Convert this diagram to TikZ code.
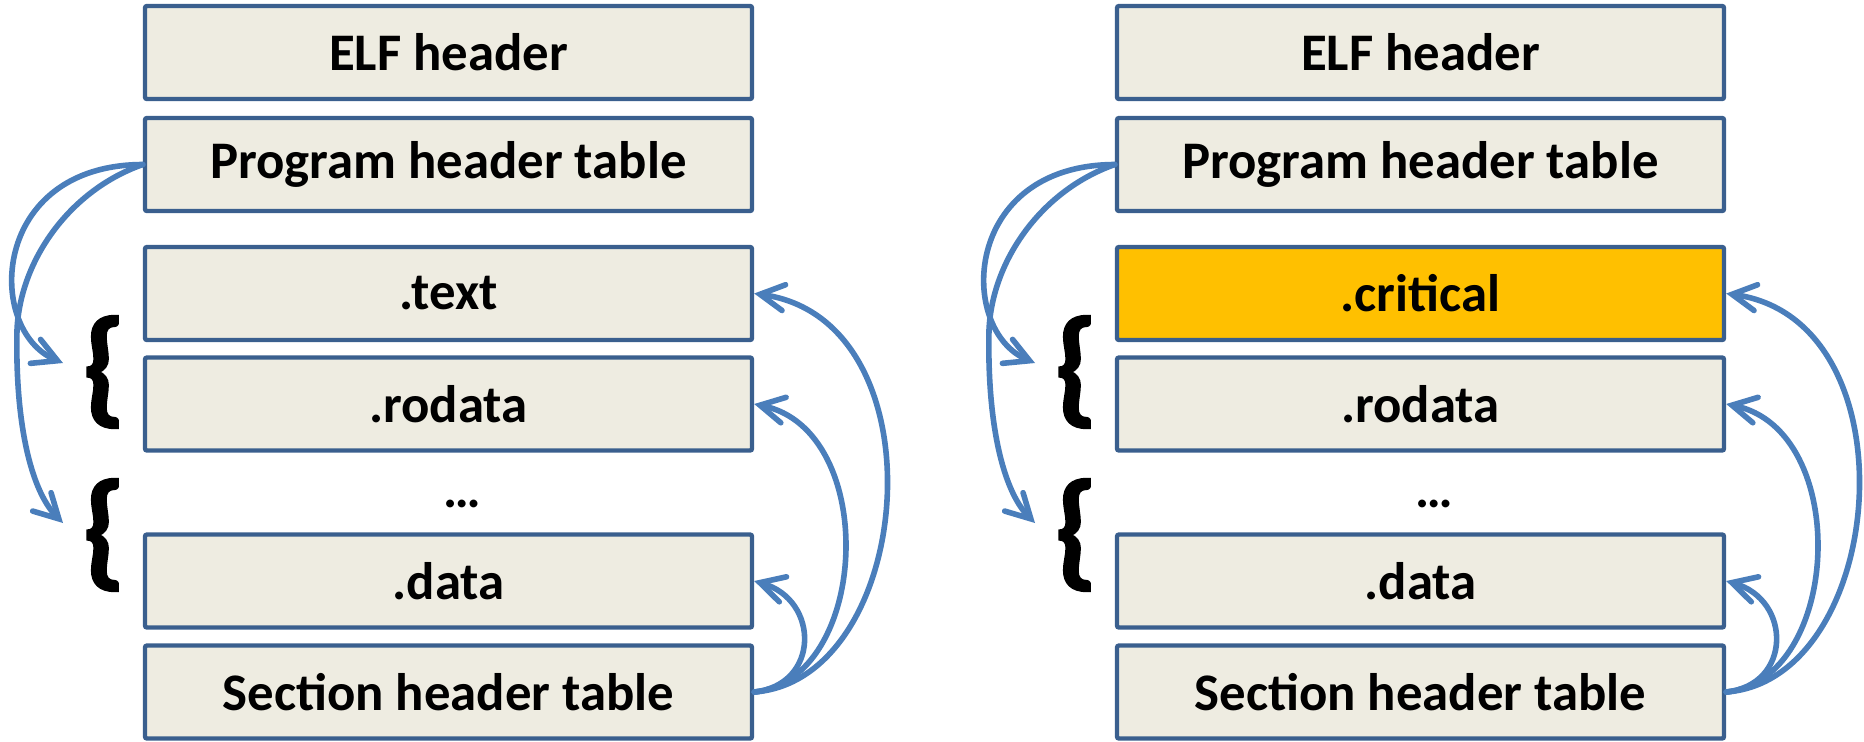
\documentclass[tikz,border=0pt]{standalone}
\usepackage{fontspec}
\setmainfont{Carlito}
\newfontfamily\bracefont[FakeBold=1.6]{Carlito Bold}
\usetikzlibrary{arrows.meta}
\definecolor{boxline}{HTML}{3A5F8E}
\definecolor{boxfill}{HTML}{EEECE1}
\definecolor{arrowblue}{HTML}{4A7EBB}
\definecolor{hot}{HTML}{FFC000}

\tikzset{
  sect/.style={draw=boxline, fill=boxfill, line width=2.2pt, rounded corners=1pt,
    minimum width=303.5pt, minimum height=46.5pt, inner sep=0pt,
    font=\bfseries\fontsize{26.4}{30}\selectfont},
  plain/.style={inner sep=0pt, font=\bfseries\fontsize{26.4}{30}\selectfont},
  brace/.style={inner sep=0pt, font=\bracefont\fontsize{64}{64}\selectfont},
  conn/.style={draw=arrowblue, line width=2.8pt, line cap=round,
    -{Straight Barb[length=12pt, width=13pt, line cap=round]}},
}

% one ELF layout column: #1 name prefix, #2 horizontal shift (px),
% #3 label of the first section, #4 its fill colour
\newcommand{\elfcolumn}[4]{%
\begin{scope}[xshift=#2*0.5pt, name prefix=#1-]
  \node[sect] (elf)    at (448.5,52.5) {ELF header};
  \node[sect] (pht)    at (448.5,164.5) {Program header table};
  \node[sect, fill=#4] (first) at (448.5,293.5) {#3};
  \node[sect] (rodata) at (448.5,404) {.rodata};
  \node[plain] (dots)  at (462,504) {…};
  \node[sect] (data)   at (448.5,581) {.data};
  \node[sect] (sht)    at (448.5,692) {Section header table};
  \node[brace] (b1) at (104,372) {\{};
  \node[brace] (b2) at (104,535) {\{};
  \coordinate (t1) at (63,363);
  \coordinate (t2) at (63,523);
  % program headers -> segments
  \draw[conn] (pht.west) .. controls (-10,165) and (-15,330) .. (t1);
  \draw[conn] (pht.west) .. controls (70,190) and (20,260) .. (17,330)
                         .. controls (15,420) and (30,490) .. (t2);
  % section headers -> sections
  \draw[conn] (sht.east) .. controls (915,680) and (945,320) .. (first.east);
  \draw[conn] (sht.east) .. controls (870,680) and (880,430) .. (rodata.east);
  \draw[conn] (sht.east) .. controls (820,685) and (820,600) .. (data.east);
\end{scope}}

\begin{document}
\begin{tikzpicture}[x=0.5pt, y=-0.5pt]
  \useasboundingbox (0,0) rectangle (1864,741);
  \elfcolumn{L}{0}{.text}{boxfill}
  \elfcolumn{R}{972}{.critical}{hot}
\end{tikzpicture}
\end{document}
